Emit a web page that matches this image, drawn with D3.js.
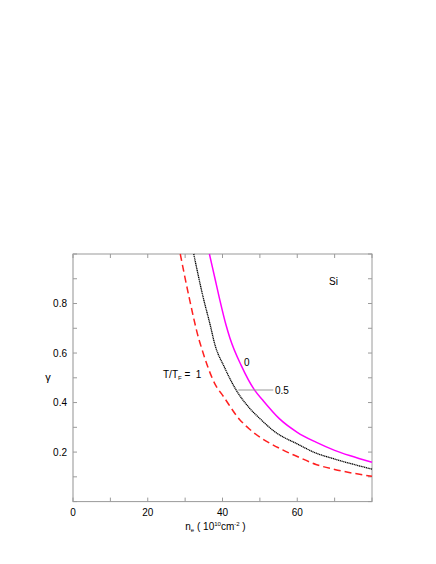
<!DOCTYPE html>
<html><head><meta charset="utf-8">
<script src="https://cdn.jsdelivr.net/npm/d3@7"></script>
<style>body{margin:0;background:#fff}text{font-family:"Liberation Sans",Arial,sans-serif;white-space:pre}</style>
</head><body>
<script>
const xTicks = [0, 20, 40, 60];
const yTicks = [0.2, 0.4, 0.6, 0.8];
const nT0 = [36.5, 38.0, 39.2, 41.0, 42.0, 45.0, 48.5, 50.75, 55.2, 60, 65, 70, 74, 80];
const gT0 = [1.0, 0.90, 0.82, 0.71, 0.66, 0.55, 0.452, 0.41, 0.335, 0.28, 0.24, 0.207, 0.186, 0.159];
const nT05 = [32.3, 34.75, 37.0, 37.6, 40.7, 43.6, 47.2, 50.3, 53.9, 60, 65, 70, 80];
const gT05 = [1.0, 0.83, 0.695, 0.655, 0.537, 0.452, 0.378, 0.331, 0.283, 0.233, 0.196, 0.172, 0.131];
const nT1 = [28.7, 31.0, 33.7, 34.3, 38.3, 40, 44.5, 47.2, 56.1, 60, 65, 70, 80];
const gT1 = [1.0, 0.83, 0.655, 0.625, 0.466, 0.43, 0.333, 0.293, 0.209, 0.182, 0.150, 0.130, 0.102];

const W = 436, H = 564;
const m = {l: 73, r: 372, t: 254, b: 501.6};
const svg = d3.select("body").append("svg").attr("width", W).attr("height", H);
const x = d3.scaleLinear().domain([0, 80]).range([m.l, m.r]);
const y = d3.scaleLinear().domain([0, 1]).range([m.b, m.t]);
const frame = "#9a9a9a";

svg.append("rect").attr("x", m.l).attr("y", m.t).attr("width", m.r - m.l).attr("height", m.b - m.t)
  .attr("fill", "none").attr("stroke", frame).attr("stroke-width", 1);
svg.append("line").attr("x1", m.l).attr("x2", m.l).attr("y1", m.t).attr("y2", m.b)
  .attr("stroke", "#c8c8c8").attr("stroke-width", 2);

const tl = 4;
const xt = d3.range(0, 81, 10), yt = d3.range(0, 1.001, 0.1);
xt.forEach(v => {
  svg.append("line").attr("x1", x(v)).attr("x2", x(v)).attr("y1", m.b).attr("y2", m.b - tl).attr("stroke", frame);
  svg.append("line").attr("x1", x(v)).attr("x2", x(v)).attr("y1", m.t).attr("y2", m.t + tl).attr("stroke", frame);
});
yt.forEach(v => {
  svg.append("line").attr("x1", m.l).attr("x2", m.l + tl).attr("y1", y(v)).attr("y2", y(v)).attr("stroke", frame);
  svg.append("line").attr("x1", m.r).attr("x2", m.r - tl).attr("y1", y(v)).attr("y2", y(v)).attr("stroke", frame);
});
xTicks.forEach(v => svg.append("text").attr("x", x(v)).attr("y", 515.5).attr("text-anchor", "middle")
  .attr("font-size", 10).text(v));
yTicks.forEach(v => svg.append("text").attr("x", 67).attr("y", y(v) + 3.5).attr("text-anchor", "end")
  .attr("font-size", 10).text(v.toFixed(1)));

const xl = svg.append("text").attr("x", 215.5).attr("y", 530).attr("text-anchor", "middle").attr("font-size", 10);
xl.append("tspan").text("n");
xl.append("tspan").attr("font-size", 6).attr("dy", 2).text("e");
xl.append("tspan").attr("dy", -2).text(" ( 10");
xl.append("tspan").attr("font-size", 6).attr("dy", -4).text("10");
xl.append("tspan").attr("dy", 4).text("cm");
xl.append("tspan").attr("font-size", 6).attr("dy", -4).text("-2");
xl.append("tspan").attr("dy", 4).text(" )");
svg.append("text").attr("x", 48).attr("y", 381).attr("text-anchor", "middle").attr("font-size", 11).text("γ");

const line = d3.line().x(d => x(d[0])).y(d => y(d[1])).curve(d3.curveMonotoneX);
const mk = (n, g) => n.map((v, i) => [v, g[i]]);
svg.append("path").datum(mk(nT1, gT1)).attr("d", line).attr("fill", "none")
  .attr("stroke", "#ff2020").attr("stroke-width", 1.5).attr("stroke-dasharray", "7,4");
svg.append("path").datum(mk(nT05, gT05)).attr("d", line).attr("fill", "none")
  .attr("stroke", "#000").attr("stroke-width", 1.3).attr("stroke-dasharray", "1.2,0.6");
svg.append("path").datum(mk(nT0, gT0)).attr("d", line).attr("fill", "none")
  .attr("stroke", "#ff00ff").attr("stroke-width", 1.5);

svg.append("line").attr("x1", 238.3).attr("x2", 273.3).attr("y1", 390).attr("y2", 390).attr("stroke", "#999").attr("stroke-width", 1);
svg.append("text").attr("x", 275).attr("y", 394).attr("font-size", 10).text("0.5");
svg.append("text").attr("x", 244).attr("y", 365.5).attr("font-size", 10).text("0");
svg.append("text").attr("x", 329).attr("y", 284.5).attr("font-size", 10).text("Si");
const tt = svg.append("text").attr("x", 163).attr("y", 378).attr("font-size", 10);
tt.append("tspan").text("T/T");
tt.append("tspan").attr("font-size", 6).attr("dy", 2).text("F");
tt.append("tspan").attr("dy", -2).text(" =  1");
</script>
</body></html>
